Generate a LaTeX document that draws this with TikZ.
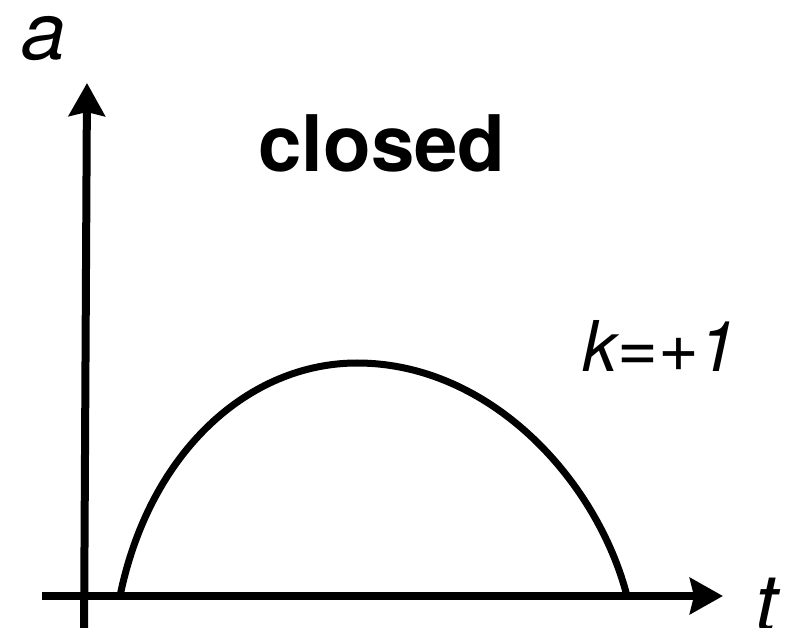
\documentclass[tikz,border=0pt]{standalone}
\usepackage{fontspec}
\setmainfont{TeX Gyre Heros}
\usetikzlibrary{arrows.meta}
\begin{document}
\begin{tikzpicture}[x=1pt,y=-1pt,
  axis/.style={line width=8pt,-{Stealth[length=33pt,width=36pt,inset=4pt]}},
  curve/.style={line width=7pt},
  lbl/.style={inner sep=0pt,anchor=base}]
\useasboundingbox (0,0) rectangle (790,628);
% axes
\coordinate (ybot) at (84,640);
\coordinate (ytop) at (87,83);
\coordinate (xleft) at (42,596);
\coordinate (xright) at (723,596);
\draw[axis] (ybot) -- (ytop);
\draw[axis] (xleft) -- (xright);
% curve
\coordinate (c0) at (120,596);
\coordinate (cpk) at (357,363);
\coordinate (c1) at (627,596);
\draw[curve] (c0) .. controls (150,450) and (250,363) .. (cpk)
  .. controls (490,363) and (597,480) .. (c1);
% labels
\node[lbl,font=\itshape\fontsize{80}{80}\selectfont] (la) at (44,60) {\smash{a}};
\node[lbl,font=\itshape\fontsize{80}{80}\selectfont] (lt) at (767,631) {\smash{t}};
\node[lbl,font=\bfseries\fontsize{78}{78}\selectfont] (lc) at (382,172) {closed};
\node[lbl,font=\itshape\fontsize{70}{70}\selectfont] (lk) at (660,371) {k=+1};
\end{tikzpicture}
\end{document}
